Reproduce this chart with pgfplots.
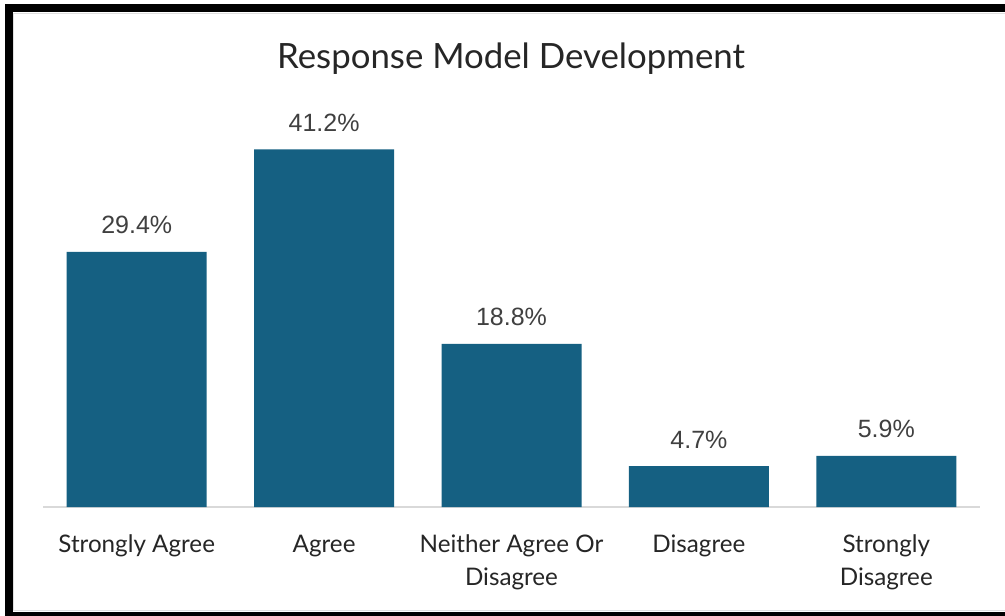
\documentclass[border=0pt]{standalone}
\usepackage{pgfplots}
\pgfplotsset{compat=1.18}
\usepackage{fontspec}
\setmainfont{Lato}
\newfontfamily\labelfont{Liberation Sans}
\definecolor{barblue}{HTML}{156082}
\definecolor{txt}{HTML}{262626}
\definecolor{lbl}{HTML}{404040}
\definecolor{axgray}{HTML}{D9D9D9}

\begin{document}
\begin{tikzpicture}
% frame, in pixel units with the origin at the top left
\begin{scope}[x=0.5pt,y=-0.5pt]
  \useasboundingbox (0,0) rectangle (1005,615);
  \fill[white] (0,0) rectangle (1005,615);
  \draw[black, line width=4pt] (8.5,8) rectangle (1013,616);
  \draw[gray!25, line width=0.6pt] (13.5,13.5) rectangle (1009,610.5);
  \node[font=\fontsize{17.4}{20}\selectfont, text=txt] at (511,59) {Response Model Development};
  \coordinate (O) at (43,507);
\end{scope}
\begin{axis}[
    at={(O)}, anchor=south west,
    scale only axis,
    width=468.5pt, height=203.5pt,
    xmin=-0.5, xmax=4.5,
    ymin=0, ymax=46.9,
    hide y axis,
    axis x line=bottom,
    x axis line style={axgray, line width=1pt, -},
    xtick={0,1,2,3,4},
    % every label has two lines, so that the base anchor (last line) lines them all up
    xticklabels={Strongly Agree\\\strut, Agree\\\strut, Neither Agree Or\\Disagree, Disagree\\\strut, Strongly\\Disagree},
    major tick length=0pt,
    xticklabel style={font=\fontsize{12.1}{16.5}\selectfont, text=txt, align=center,
        anchor=base, yshift=-39pt, inner sep=0pt},
    ybar, bar width=70pt,
    clip=false,
    /pgf/number format/.cd, fixed, precision=1, fixed zerofill, assume math mode=true,
    /pgfplots/.cd,
    nodes near coords={\pgfmathprintnumber{\pgfplotspointmeta}\%},
    every node near coord/.append style={font=\labelfont\fontsize{12.5}{15}\selectfont, text=lbl,
        anchor=base, yshift=9pt, inner sep=0pt},
]
\addplot[fill=barblue, draw=none] coordinates {
    (0,29.4) (1,41.2) (2,18.8) (3,4.7) (4,5.9)
};
\end{axis}
\end{tikzpicture}
\end{document}
